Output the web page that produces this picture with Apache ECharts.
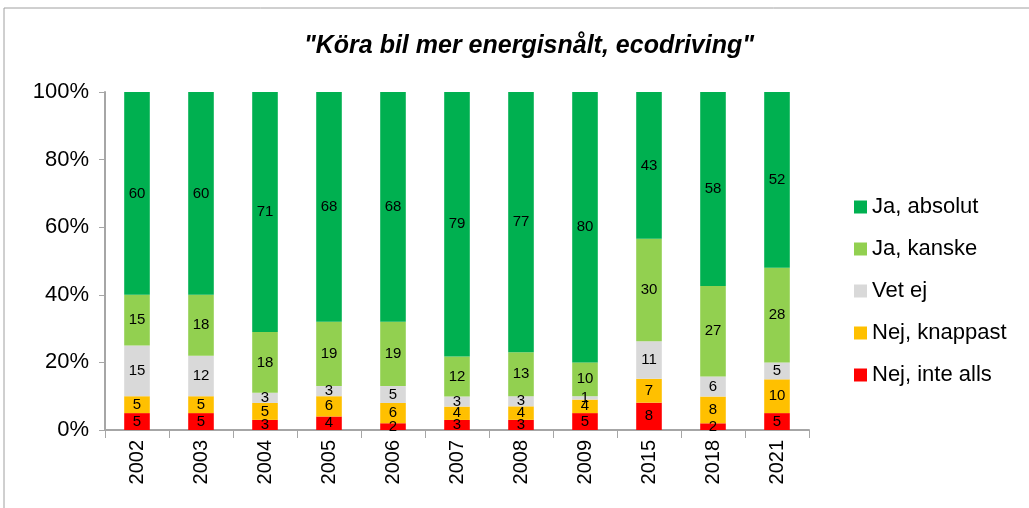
<!DOCTYPE html>
<html>
<head>
<meta charset="utf-8">
<script src="https://cdn.jsdelivr.net/npm/echarts@6/dist/echarts.min.js"></script>
<style>
  html, body { margin: 0; padding: 0; background: #fff; }
  #chart { width: 1029px; height: 508px; }
</style>
</head>
<body>
<div id="chart"></div>
<script>
var years = ['2002', '2003', '2004', '2005', '2006', '2007', '2008', '2009', '2015', '2018', '2021'];
var nejInteAlls  = [5, 5, 3, 4, 2, 3, 3, 5, 8, 2, 5];
var nejKnappast  = [5, 5, 5, 6, 6, 4, 4, 4, 7, 8, 10];
var vetEj        = [15, 12, 3, 3, 5, 3, 3, 1, 11, 6, 5];
var jaKanske     = [15, 18, 18, 19, 19, 12, 13, 10, 30, 27, 28];
var jaAbsolut    = [60, 60, 71, 68, 68, 79, 77, 80, 43, 58, 52];
var yTicks = [0, 20, 40, 60, 80, 100];

var chart = echarts.init(document.getElementById('chart'));

// 100% stacked: bar height is the share of the column total, label keeps the read value
var allSeries = [nejInteAlls, nejKnappast, vetEj, jaKanske, jaAbsolut];
var totals = years.map(function (y, i) {
  return allSeries.reduce(function (s, arr) { return s + arr[i]; }, 0);
});

function bar(name, data, color) {
  return {
    name: name,
    type: 'bar',
    stack: 'total',
    barWidth: '40%',
    data: data.map(function (v, i) { return { value: v / totals[i] * 100, raw: v }; }),
    itemStyle: { color: color },
    label: {
      show: true,
      position: 'inside',
      color: '#000',
      fontFamily: 'Liberation Sans',
      fontSize: 15,
      formatter: function (p) { return p.data.raw; }
    }
  };
}

var option = {
  animation: false,
  backgroundColor: '#fff',
  title: {
    text: '"Köra bil mer energisnålt, ecodriving"',
    left: 524,
    top: 29,
    textAlign: 'center',
    textStyle: {
      fontFamily: 'Liberation Sans',
      fontStyle: 'italic',
      fontWeight: 'bold',
      fontSize: 25,
      color: '#000'
    }
  },
  graphic: [{
    type: 'rect',
    shape: { x: 4, y: 8, width: 1100, height: 600 },
    style: { fill: 'none', stroke: '#a0a0a0', lineWidth: 1 },
    silent: true
  }],
  legend: {
    orient: 'vertical',
    left: 849,
    top: 191,
    itemGap: 20,
    itemWidth: 13,
    itemHeight: 13,
    icon: 'rect',
    data: ['Ja, absolut', 'Ja, kanske', 'Vet ej', 'Nej, knappast', 'Nej, inte alls'],
    textStyle: { fontFamily: 'Liberation Sans', fontSize: 22, color: '#000' }
  },
  grid: { left: 105, right: 220, top: 92, bottom: 78 },
  xAxis: {
    type: 'category',
    data: years,
    axisLine: { lineStyle: { color: '#a6a6a6', width: 2 } },
    axisTick: { show: true, length: 8, lineStyle: { color: '#a6a6a6' } },
    axisLabel: {
      rotate: 90,
      color: '#000',
      fontFamily: 'Liberation Sans',
      fontSize: 20,
      margin: 10
    }
  },
  yAxis: {
    type: 'value',
    min: yTicks[0],
    max: yTicks[yTicks.length - 1],
    interval: 20,
    axisLine: { show: true, lineStyle: { color: '#a6a6a6', width: 2 } },
    axisTick: { show: true, length: 6, lineStyle: { color: '#a6a6a6' } },
    splitLine: { show: false },
    axisLabel: {
      formatter: '{value}%',
      color: '#000',
      fontFamily: 'Liberation Sans',
      fontSize: 22,
      margin: 16
    }
  },
  series: [
    bar('Nej, inte alls', nejInteAlls, '#ff0000'),
    bar('Nej, knappast', nejKnappast, '#ffc000'),
    bar('Vet ej', vetEj, '#d9d9d9'),
    bar('Ja, kanske', jaKanske, '#92d050'),
    bar('Ja, absolut', jaAbsolut, '#00b050')
  ]
};

chart.setOption(option);
</script>
</body>
</html>
